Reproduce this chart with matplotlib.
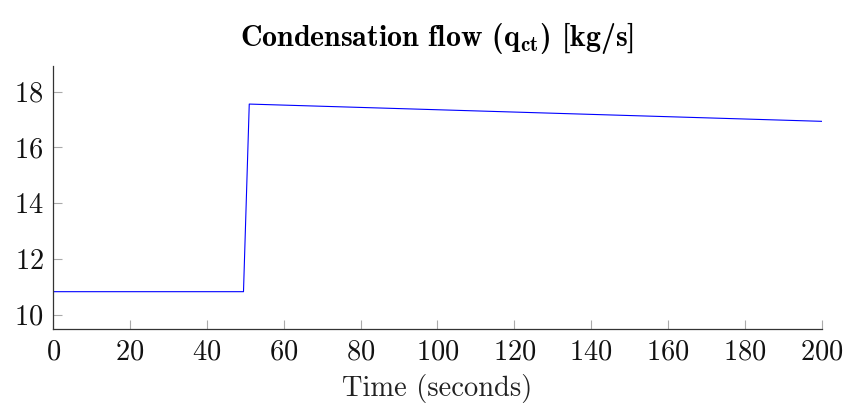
import numpy as np
import matplotlib
matplotlib.use("Agg")
import matplotlib.pyplot as plt

plt.rcParams['font.family'] = 'cmr10'
plt.rcParams['mathtext.fontset'] = 'cm'
plt.rcParams['axes.formatter.use_mathtext'] = True

# condensation flow response, step at t ~ 50 s
time_s = [0, 49.5, 51.0, 200]
flow_kgs = [10.82, 10.82, 17.56, 16.94]

x_ticks = [0, 20, 40, 60, 80, 100, 120, 140, 160, 180, 200]
y_ticks = [10, 12, 14, 16, 18]

fig = plt.figure(figsize=(8.48, 4.07), dpi=100)
ax = fig.add_axes([0.0629, 0.191, 0.906, 0.647])

ax.plot(time_s, flow_kgs, color='blue', lw=0.8)

ax.set_xlim(0, 200)
ax.set_ylim(9.47, 18.93)
ax.set_xticks(x_ticks)
ax.set_yticks(y_ticks)

for s in ['top', 'right']:
    ax.spines[s].set_visible(False)
for s in ['left', 'bottom']:
    ax.spines[s].set_color('#333333')
    ax.spines[s].set_linewidth(0.9)

ax.tick_params(direction='in', length=6.5, width=0.8, color='#aaaaaa',
               labelsize=20.5, labelcolor='#111111')
ax.tick_params(axis='x', pad=7)
ax.tick_params(axis='y', pad=7)

ax.set_xlabel('Time (seconds)', fontsize=20.5, color='#222222', labelpad=6)
ax.set_title(r'Condensation flow ($\mathbf{q}_{\mathbf{ct}}$) [kg/s]',
             fontsize=21.5, family='cmb10', pad=14)

fig.savefig('out.png', dpi=100)
